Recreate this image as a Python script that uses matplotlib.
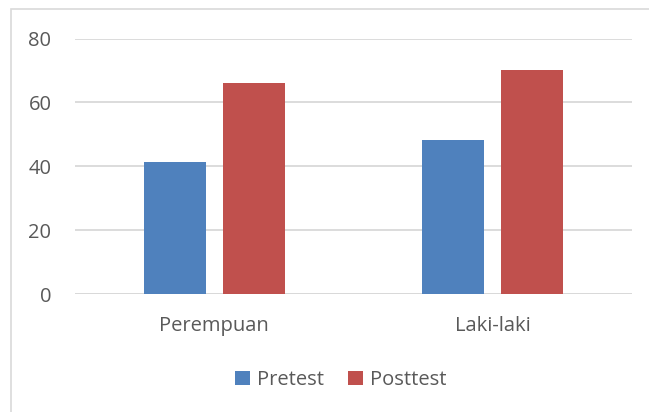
import matplotlib.pyplot as plt
import numpy as np
from matplotlib.patches import Rectangle

categories = ["Perempuan", "Laki-laki"]
pretest = [41.2, 48.1]
posttest = [66.2, 70.0]

W, H = 649, 412
fig = plt.figure(figsize=(W / 100, H / 100), dpi=100)
plt.rcParams['font.family'] = ['Open Sans', 'DejaVu Sans']

# outer chart border (only left and top edges fall inside the image)
fig.patches.append(Rectangle((10.5 / W, -0.1), 1.2, 1.1 - 9.5 / H, transform=fig.transFigure,
                             fill=False, edgecolor="#d9d9d9", linewidth=1.2))

ax = fig.add_axes([75 / W, 1 - 294 / H, 557 / W, (294 - 38.5) / H])
x = np.arange(len(categories))
width = 0.224
off = 0.142
ax.bar(x - off, pretest, width, color="#4f81bd", label="Pretest", zorder=3)
ax.bar(x + off, posttest, width, color="#c0504d", label="Posttest", zorder=3)

ax.set_xlim(-0.5, 1.5)
ax.set_ylim(0, 80)
ax.set_yticks([0, 20, 40, 60, 80])
ax.yaxis.grid(True, color="#d9d9d9", linewidth=1.3, zorder=0)
ax.set_xticks(x)
ax.set_xticklabels(categories)
ax.tick_params(axis="both", length=0, labelsize=14.5, labelcolor="#595959")
ax.tick_params(axis="y", pad=17)
ax.tick_params(axis="x", pad=16)
for s in ax.spines.values():
    s.set_visible(False)
ax.axhline(0, color="#d9d9d9", linewidth=1.3, zorder=2)

fig.legend(loc="center", bbox_to_anchor=(341 / W, 1 - 380 / H), ncol=2, frameon=False,
           fontsize=14.5, labelcolor="#595959", handlelength=0.75, handleheight=0.75,
           handletextpad=0.35, columnspacing=1.2)

fig.savefig("out.png", dpi=100)
